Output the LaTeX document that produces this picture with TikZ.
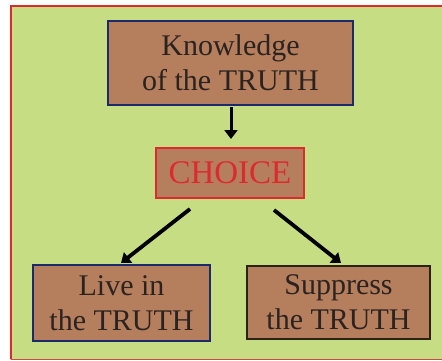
\documentclass[tikz,border=0pt]{standalone}
\usepackage{fontspec}
\setmainfont{Liberation Serif}
\usetikzlibrary{arrows.meta}
\definecolor{leaf}{HTML}{C6DD84}
\definecolor{clay}{HTML}{B57E5D}
\definecolor{navy}{HTML}{1B2A68}
\definecolor{crimson}{HTML}{DE2A2E}
\definecolor{ink}{HTML}{2A2320}
\definecolor{umber}{HTML}{2B2416}
\tikzset{
  box/.style={rectangle, fill=clay, align=center, inner sep=0pt,
    text=ink, font=\fontsize{30}{35}\selectfont},
  link/.style={draw=black, -{Triangle[length=9pt,width=13pt]}}
}
\begin{document}
\begin{tikzpicture}[x=1pt,y=-1pt]
  \useasboundingbox (0,0) rectangle (442,360);
  \fill[white] (0,0) rectangle (442,360);
  % panel
  \fill[leaf] (10,5) rectangle (446,360);
  \draw[crimson, line width=2pt] (446,6) -- (11,6) -- (11,359);
  \draw[crimson!60!clay, line width=0.8pt] (11,359.4) -- (446,359.4);

  % boxes
  \node[box, draw=navy, line width=1.8pt, minimum width=245pt, minimum height=84pt]
    (know) at (230.5,63) {Knowledge\\of the TRUTH};
  \node[box, draw=crimson, line width=2pt, minimum width=148pt, minimum height=50pt,
    text=crimson, font=\fontsize{33}{35}\selectfont]
    (choice) at (230,173) {CHOICE};
  \node[box, draw=navy, line width=1.8pt, minimum width=177pt, minimum height=76pt]
    (live) at (121.5,303) {Live in\\the TRUTH};
  \node[box, draw=umber, line width=2.6pt, minimum width=183pt, minimum height=73pt]
    (supp) at (338.5,302.5) {Suppress\\the TRUTH};

  % arrow ends
  \coordinate (kdown) at (231,107);
  \coordinate (ctop) at (231,139);
  \coordinate (cleft) at (190,209);
  \coordinate (lend) at (121,263);
  \coordinate (cright) at (274,210);
  \coordinate (rend) at (341,263);

  \draw[link, line width=3pt] (kdown) -- (ctop);
  \draw[link, line width=3.8pt] (cleft) -- (lend);
  \draw[link, line width=3.8pt] (cright) -- (rend);
\end{tikzpicture}
\end{document}
